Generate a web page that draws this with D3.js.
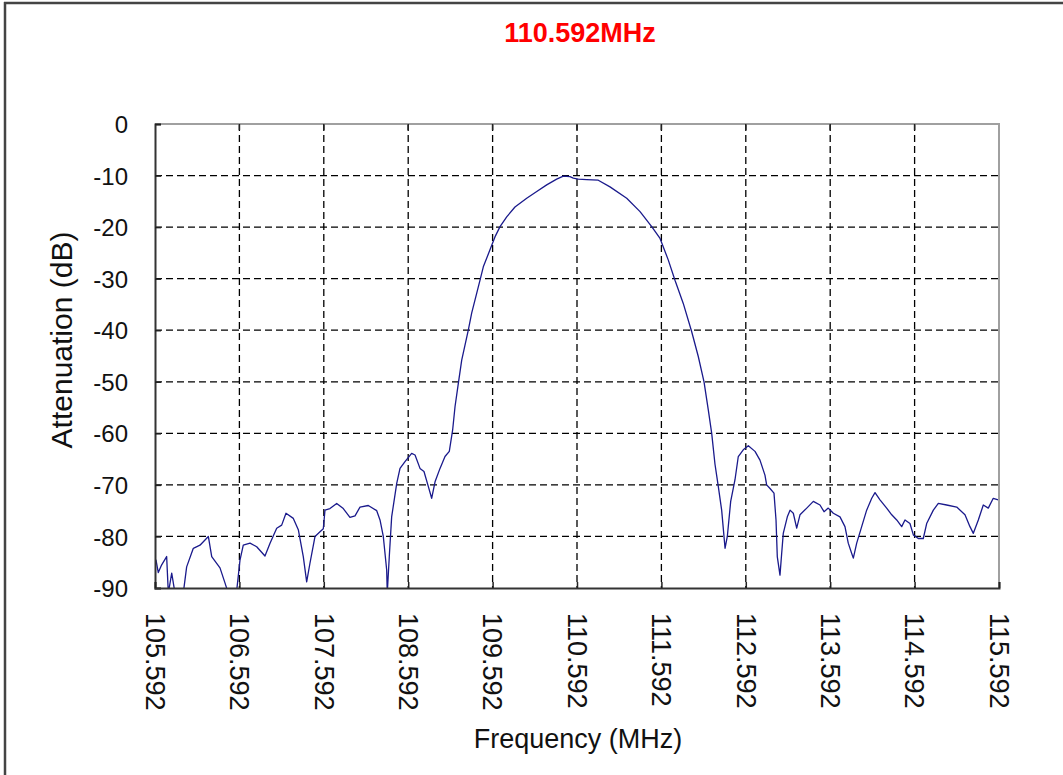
<!DOCTYPE html>
<html>
<head>
<meta charset="utf-8">
<script src="https://cdn.jsdelivr.net/npm/d3@7"></script>
<style>
  html, body { margin: 0; padding: 0; background: #fff; }
  svg { display: block; font-family: "Liberation Sans", Arial, sans-serif; }
</style>
</head>
<body>
<svg id="chart" width="1063" height="775"></svg>
<script>
const titleText = "110.592MHz";
const xTitle = "Frequency (MHz)";
const yTitle = "Attenuation (dB)";
const xTicks = [105.592, 106.592, 107.592, 108.592, 109.592, 110.592, 111.592, 112.592, 113.592, 114.592, 115.592];
const yTicks = [0, -10, -20, -30, -40, -50, -60, -70, -80, -90];

const freq = [
  105.592, 105.604, 105.631, 105.671, 105.730, 105.750, 105.790, 105.829, 105.888, 105.927,
  105.967, 106.046, 106.125, 106.224, 106.264, 106.362, 106.421, 106.460, 106.560, 106.599,
  106.638, 106.718, 106.797, 106.895, 106.955, 107.034, 107.093, 107.144, 107.231, 107.290,
  107.349, 107.389, 107.428, 107.488, 107.547, 107.586, 107.606, 107.665, 107.745, 107.823,
  107.902, 107.962, 108.021, 108.119, 108.219, 108.258, 108.297, 108.337, 108.344, 108.368,
  108.396, 108.456, 108.495, 108.554, 108.633, 108.673, 108.732, 108.779, 108.830, 108.870,
  108.910, 108.969, 109.028, 109.079, 109.119, 109.147, 109.186, 109.226, 109.265, 109.304,
  109.344, 109.404, 109.443, 109.482, 109.561, 109.620, 109.680, 109.759, 109.857, 109.996,
  110.115, 110.233, 110.351, 110.430, 110.509, 110.548, 110.607, 110.707, 110.844, 110.983,
  111.181, 111.339, 111.477, 111.576, 111.674, 111.753, 111.851, 111.951, 112.029, 112.097,
  112.148, 112.188, 112.227, 112.266, 112.306, 112.346, 112.373, 112.413, 112.464, 112.503,
  112.562, 112.622, 112.701, 112.760, 112.819, 112.839, 112.879, 112.926, 112.950, 112.965,
  112.997, 113.017, 113.036, 113.084, 113.116, 113.155, 113.195, 113.234, 113.314, 113.392,
  113.471, 113.519, 113.569, 113.629, 113.708, 113.767, 113.806, 113.847, 113.866, 113.906,
  113.965, 114.024, 114.084, 114.123, 114.182, 114.261, 114.321, 114.380, 114.439, 114.478,
  114.537, 114.577, 114.636, 114.695, 114.735, 114.814, 114.873, 114.972, 115.091, 115.189,
  115.248, 115.288, 115.347, 115.406, 115.465, 115.524, 115.583
];
const atten = [
  -85.0, -84.6, -87.0, -85.5, -83.9, -91.0, -87.1, -91.0, -90.5, -91.0,
  -85.9, -82.3, -81.7, -80.0, -83.9, -86.1, -89.0, -91.0, -90.5, -84.6,
  -81.7, -81.3, -82.0, -83.8, -81.3, -78.4, -77.8, -75.5, -76.5, -78.7,
  -83.9, -88.8, -85.2, -80.0, -79.1, -78.5, -74.9, -74.6, -73.6, -74.6,
  -76.3, -76.0, -74.3, -74.0, -75.0, -76.8, -80.0, -86.5, -91.0, -83.9,
  -76.2, -69.7, -66.8, -65.5, -63.9, -64.2, -66.8, -67.4, -70.3, -72.6,
  -69.4, -66.8, -64.5, -63.5, -59.3, -54.8, -50.3, -45.8, -42.9, -40.0,
  -36.7, -32.8, -30.3, -27.7, -24.4, -21.9, -19.9, -18.0, -16.1, -14.4,
  -13.1, -11.8, -10.7, -10.1, -10.2, -10.5, -10.7, -10.8, -10.9, -12.2,
  -14.4, -17.0, -19.9, -22.2, -26.4, -30.3, -34.8, -40.3, -45.1, -50.0,
  -55.5, -60.0, -66.0, -70.3, -74.9, -82.3, -80.0, -73.2, -69.0, -64.5,
  -63.2, -62.4, -63.5, -65.2, -68.1, -70.0, -70.7, -71.6, -76.8, -83.9,
  -87.5, -83.3, -79.4, -76.2, -74.9, -75.5, -78.4, -75.8, -74.5, -73.2,
  -73.9, -75.2, -74.5, -75.5, -76.2, -78.1, -81.3, -83.3, -84.2, -81.3,
  -78.1, -74.9, -72.6, -71.5, -72.9, -74.5, -75.8, -76.8, -78.1, -76.8,
  -77.5, -79.7, -80.4, -80.4, -77.5, -74.9, -73.6, -73.9, -74.3, -75.8,
  -78.1, -79.4, -76.8, -73.9, -74.5, -72.6, -72.9
];

const svg = d3.select("#chart");
const W = 1063, H = 775;
const m = { left: 155, top: 124, right: 999, bottom: 588 };

// outer frame (left and top edges visible)
svg.append("line").attr("x1", 5).attr("x2", 5).attr("y1", 2).attr("y2", H).attr("stroke", "#444").attr("stroke-width", 2.5);
svg.append("line").attr("x1", 4).attr("x2", W).attr("y1", 3).attr("y2", 3).attr("stroke", "#444").attr("stroke-width", 2.5);

const x = d3.scaleLinear().domain([105.592, 115.592]).range([m.left, m.right]);
const y = d3.scaleLinear().domain([0, -90]).range([m.top, m.bottom]);

// title
svg.append("text").attr("x", 580).attr("y", 42).attr("text-anchor", "middle")
  .attr("font-size", 27).attr("font-weight", "bold").attr("fill", "#ff0000").text(titleText);

// grid
const grid = svg.append("g");
grid.selectAll("line.h").data(yTicks.filter(d => d !== 0 && d !== -90)).enter().append("line")
  .attr("x1", m.left).attr("x2", m.right).attr("y1", d => y(d)).attr("y2", d => y(d))
  .attr("stroke", "#000").attr("stroke-width", 1.3).attr("stroke-dasharray", "7,4");
grid.selectAll("line.v").data(xTicks.slice(1, -1)).enter().append("line")
  .attr("x1", d => x(d)).attr("x2", d => x(d)).attr("y1", m.top).attr("y2", m.bottom)
  .attr("stroke", "#000").attr("stroke-width", 1.3).attr("stroke-dasharray", "7,4");

// curve
svg.append("clipPath").attr("id", "clip").append("rect")
  .attr("x", m.left).attr("y", m.top).attr("width", m.right - m.left).attr("height", m.bottom - m.top);
const pts = freq.map((f, i) => [f, atten[i]]);
svg.append("path").datum(pts).attr("clip-path", "url(#clip)")
  .attr("d", d3.line().x(d => x(d[0])).y(d => y(d[1])))
  .attr("fill", "none").attr("stroke", "#1a1a8c").attr("stroke-width", 1.3).attr("stroke-linejoin", "round");

// frame
svg.append("line").attr("x1", m.left).attr("x2", m.right + 1).attr("y1", m.top).attr("y2", m.top).attr("stroke", "#a0a0a0").attr("stroke-width", 2);
svg.append("line").attr("x1", m.right).attr("x2", m.right).attr("y1", m.top).attr("y2", m.bottom).attr("stroke", "#a0a0a0").attr("stroke-width", 2);

// axes
const yAxis = d3.axisLeft(y).tickValues(yTicks).tickSize(-6).tickFormat(d => String(d));
const gy = svg.append("g").attr("transform", `translate(${m.left},0)`).call(yAxis);
gy.select(".domain").attr("stroke", "#333").attr("stroke-width", 2);
gy.selectAll(".tick line").attr("stroke", "#222").attr("stroke-width", 1.5);
gy.selectAll(".tick text").attr("font-size", 24).attr("fill", "#111").attr("font-family", "Liberation Sans, Arial, sans-serif")
  .attr("x", -27).attr("dy", "0.36em");

const xAxis = d3.axisBottom(x).tickValues(xTicks).tickSize(-6).tickFormat(d3.format(".3f"));
const gx = svg.append("g").attr("transform", `translate(0,${m.bottom})`).call(xAxis);
gx.select(".domain").attr("stroke", "#333").attr("stroke-width", 2);
gx.selectAll(".tick line").attr("stroke", "#222").attr("stroke-width", 1.5);
gx.selectAll(".tick text").attr("font-size", 27).attr("fill", "#111").attr("font-family", "Liberation Sans, Arial, sans-serif")
  .attr("text-anchor", "start").attr("transform", "rotate(90)")
  .attr("x", 25).attr("y", 0).attr("dy", "0.36em");

// top ticks
svg.append("g").selectAll("line").data(xTicks.slice(1, -1)).enter().append("line")
  .attr("x1", d => x(d)).attr("x2", d => x(d)).attr("y1", m.top).attr("y2", m.top + 6)
  .attr("stroke", "#222").attr("stroke-width", 1.5);

// axis titles
svg.append("text").attr("x", 578).attr("y", 748).attr("text-anchor", "middle")
  .attr("font-size", 27).attr("fill", "#111").text(xTitle);
svg.append("text").attr("transform", "translate(72,340) rotate(-90)").attr("text-anchor", "middle")
  .attr("font-size", 30).attr("fill", "#111").text(yTitle);
</script>
</body>
</html>
